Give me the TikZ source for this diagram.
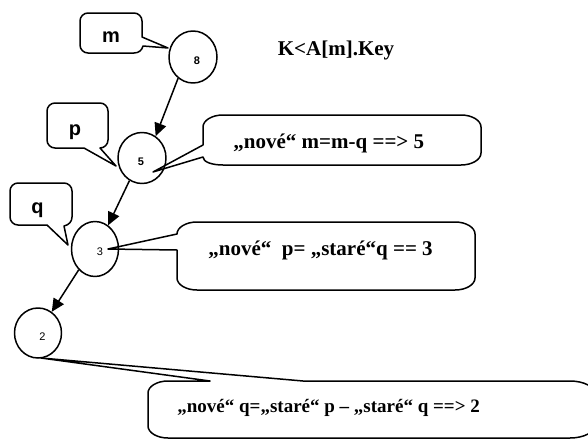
\documentclass[tikz,border=0pt]{standalone}
\usepackage{fontspec}
\setmainfont{Liberation Serif}
\newfontfamily\arialfont{Liberation Sans}
\usetikzlibrary{arrows.meta,shapes.geometric}
\tikzset{
  pen/.style={line width=0.75pt, line join=round},
  keynode/.style={pen, draw, ellipse, inner sep=0pt},
  digit/.style={inner sep=0pt, font=\arialfont\fontsize{5.5}{6}\selectfont},
  digitbold/.style={digit, font=\arialfont\bfseries\fontsize{5.5}{6}\selectfont},
  varname/.style={inner sep=0pt, font=\arialfont\bfseries\fontsize{10}{12}\selectfont},
  calltext/.style={inner sep=0pt, anchor=west, font=\bfseries\fontsize{10.5}{12}\selectfont},
  link/.style={pen, -{Triangle[length=6.5pt,width=6pt]}},
  bubble/.style={pen},
}
\begin{document}
\begin{tikzpicture}[x=0.5pt,y=-0.5pt]
  \path[use as bounding box, clip] (0,0) rectangle (588,439);

  % tree nodes
  \node[keynode, minimum width=24pt, minimum height=26pt] (n8) at (193,57) {};
  \node[keynode, minimum width=24pt, minimum height=25.5pt] (n5) at (142,158) {};
  \node[keynode, minimum width=23.5pt, minimum height=27.5pt] (n3) at (95,249) {};
  \node[keynode, minimum width=23.5pt, minimum height=25pt] (n2) at (38,333) {};

  \node[digitbold] (v8) at (197,61) {8};
  \node[digitbold] (v5) at (141,161.5) {5};
  \node[digit] (v3) at (100,252) {3};
  \node[digit] (v2) at (42.5,336.5) {2};

  % edges between the keys
  \draw[link] (n8.235) -- (n5.58);
  \draw[link] (n5.241) -- (n3.61);
  \draw[link] (n3.232) -- (n2.57);

  % pointer labels m, p, q (rounded boxes with a pointed tail)
  \draw[bubble] (88,13) -- (134,13) .. controls (138.4,13) and (142,16.6) .. (142,21)
     -- (142,37) -- (168,48) -- (143,46) .. controls (142,50) and (139,53) .. (134,53)
     -- (88,53) .. controls (83.6,53) and (80,49.4) .. (80,45) -- (80,21)
     .. controls (80,16.6) and (83.6,13) .. (88,13) -- cycle;
  \node[varname] (lm) at (111,37) {m};

  \draw[bubble] (55,103) -- (100,103) .. controls (104.4,103) and (108,106.6) .. (108,111)
     -- (108,140) .. controls (108,144.4) and (104.4,148) .. (100,148) -- (116,166)
     -- (84,148) -- (55,148) .. controls (50.6,148) and (47,144.4) .. (47,140) -- (47,111)
     .. controls (47,106.6) and (50.6,103) .. (55,103) -- cycle;
  \node[varname] (lp) at (75,132) {p};

  \draw[bubble] (18,183) -- (64,183) .. controls (68.4,183) and (72,186.6) .. (72,191)
     -- (72,217) .. controls (72,221.4) and (69,225) .. (64,226) -- (68,245) -- (47,225)
     -- (18,225) .. controls (13.6,225) and (10,221.4) .. (10,217) -- (10,191)
     .. controls (10,186.6) and (13.6,183) .. (18,183) -- cycle;
  \node[varname] (lq) at (37.5,210.5) {q};

  % condition
  \node[inner sep=0pt, font=\bfseries\fontsize{10.5}{12}\selectfont] (cond) at (336,50) {K<A[m].Key};

  % comment callouts
  \draw[bubble] (223,115) -- (461,115) .. controls (472,115) and (481,120.4) .. (481,127)
     -- (481,153) .. controls (481,159.6) and (472,165) .. (461,165) -- (223,165)
     .. controls (212,165) and (203,162) .. (203,157) -- (153,172) -- (203,145) -- (203,127)
     .. controls (203,120.4) and (212,115) .. (223,115) -- cycle;
  \node[calltext] (t1) at (233,143) {„nové“ m=m-q ==> 5};

  \draw[bubble] (197,222) -- (455,222) .. controls (466,222) and (475,227.4) .. (475,234)
     -- (475,278) .. controls (475,284.6) and (466,290) .. (455,290) -- (197,290)
     .. controls (186,290) and (177,284.6) .. (177,278) -- (177,250) -- (108,249)
     -- (177,234) .. controls (177,227.4) and (186,222) .. (197,222) -- cycle;
  \node[calltext] (t2) at (208,250) {„nové“\ \ p= „staré“q == 3};

  \draw[bubble] (303,381) -- (570,381) .. controls (583.8,381) and (595,386.8) .. (595,394)
     -- (595,425) .. controls (595,432.2) and (583.8,438) .. (570,438) -- (168,438)
     .. controls (157,438) and (148,432.6) .. (148,426) -- (148,393)
     .. controls (148,386.4) and (157,381) .. (168,381) -- (210,381) -- (41,358) -- cycle;
  \node[calltext, font=\bfseries\fontsize{9.5}{11}\selectfont] (t3) at (177,408)
     {„nové“ q=„staré“ p – „staré“ q ==> 2};
\end{tikzpicture}
\end{document}
